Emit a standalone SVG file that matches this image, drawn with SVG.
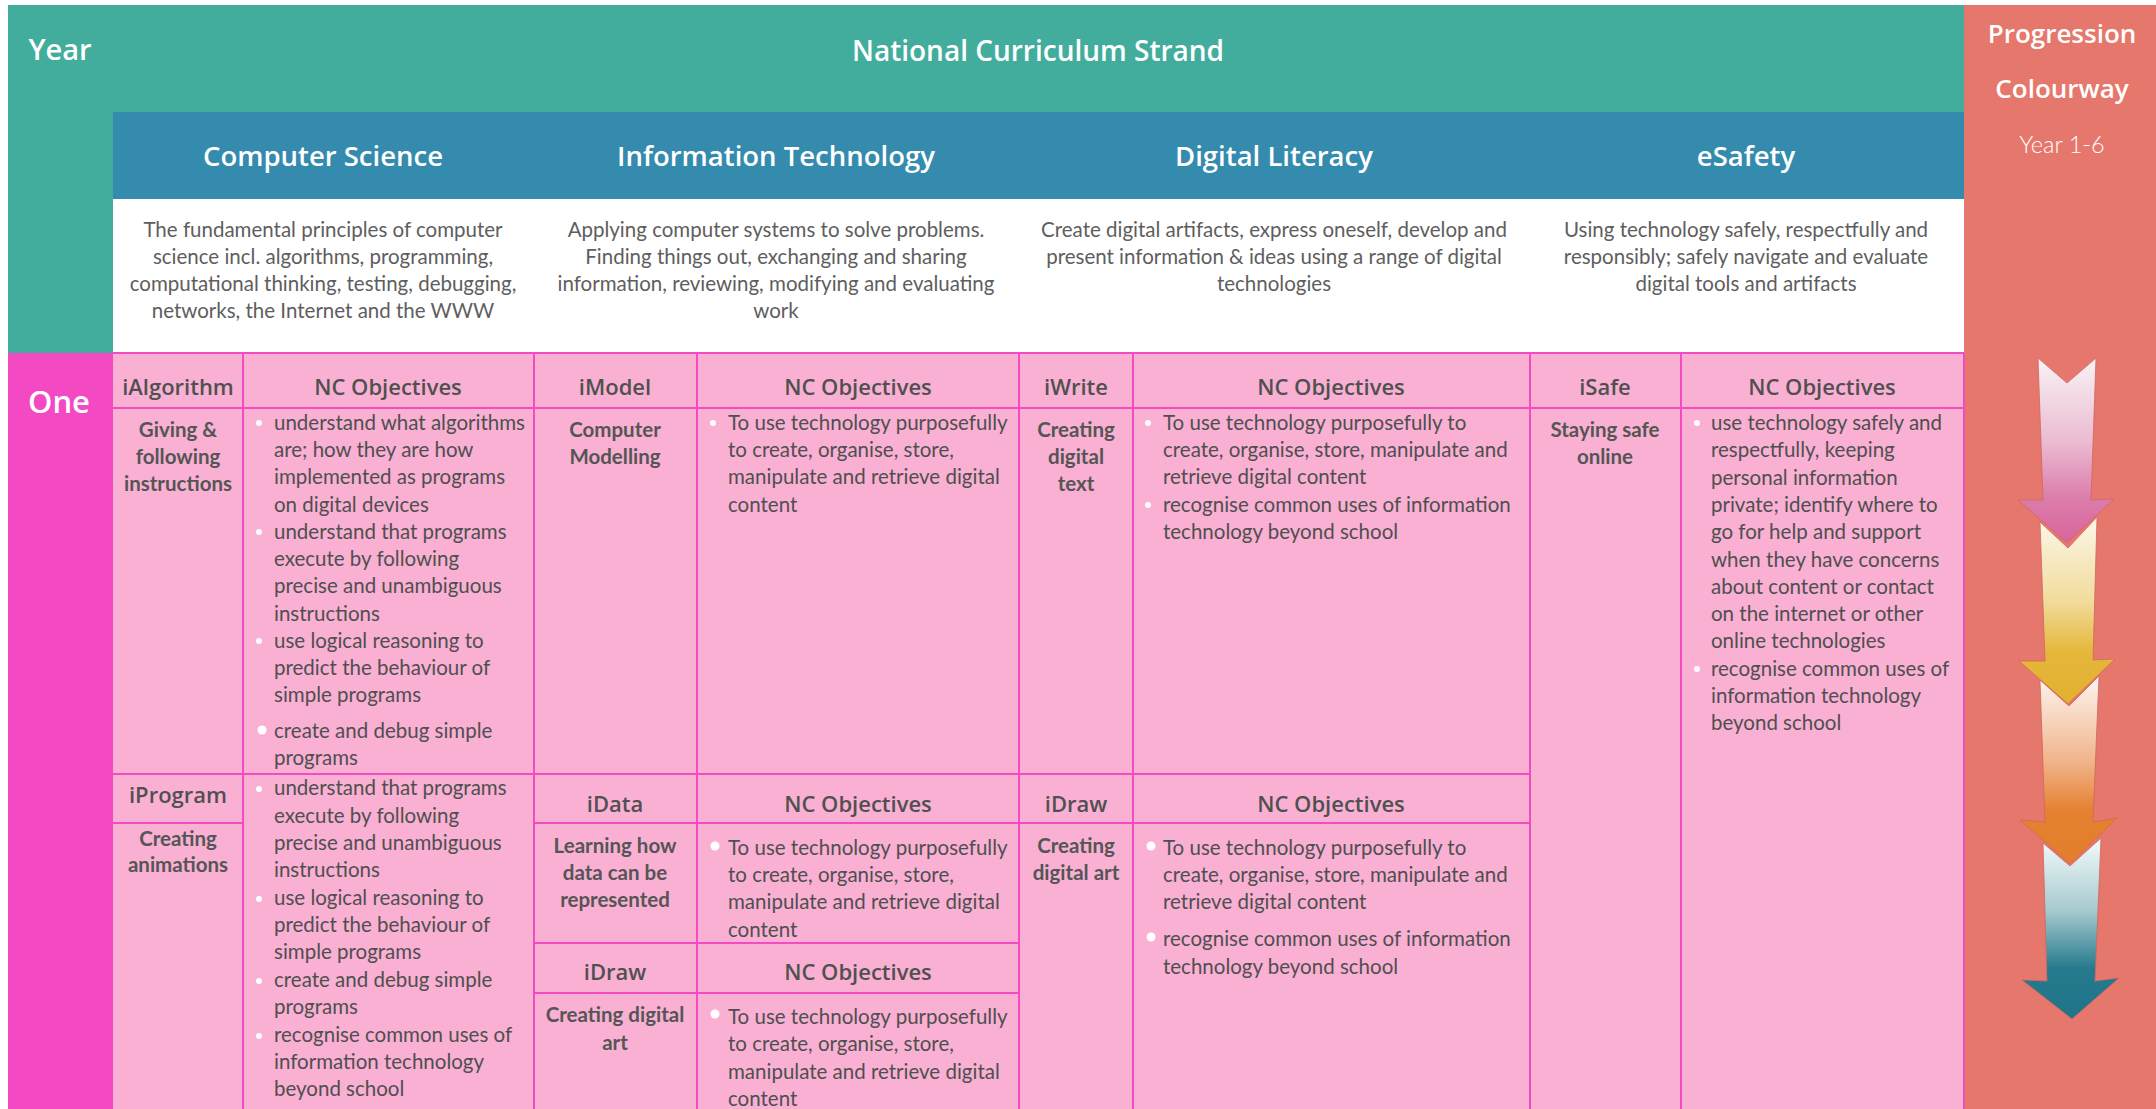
<svg xmlns="http://www.w3.org/2000/svg" width="2156" height="1109" viewBox="0 0 2156 1109">
<defs>
<style>
.hw{font-family:"Open Sans","Noto Sans",sans-serif;font-weight:600;text-anchor:middle}
.hwW{fill:#ffffff}
.hwD{fill:#505050}
.desc{font-family:Lato,"Liberation Sans",sans-serif;font-size:20.5px;fill:#5e5e5e;text-anchor:middle}
.body{font-family:Lato,"Liberation Sans",sans-serif;font-size:20.5px;fill:#4f4f4f}
.lbl{font-family:Lato,"Liberation Sans",sans-serif;font-size:20.5px;font-weight:700;fill:#555555;text-anchor:middle}
.grid{stroke:#F24BC4;stroke-width:2;fill:none}
.bul{fill:#ffffff}
.arw{stroke:#d0665e;stroke-width:0.8}
</style>
<linearGradient id="g1" x1="0" y1="0" x2="0" y2="1">
<stop offset="0" stop-color="#F8F2F5"/><stop offset="0.45" stop-color="#EBBCD2"/><stop offset="0.75" stop-color="#DC7EAB"/><stop offset="1" stop-color="#D8649C"/>
</linearGradient>
<linearGradient id="g2" x1="0" y1="0" x2="0" y2="1">
<stop offset="0" stop-color="#FCF7EA"/><stop offset="0.45" stop-color="#F1DC9C"/><stop offset="0.72" stop-color="#E5B73A"/><stop offset="1" stop-color="#E2B030"/>
</linearGradient>
<linearGradient id="g3" x1="0" y1="0" x2="0" y2="1">
<stop offset="0" stop-color="#FDF5F1"/><stop offset="0.45" stop-color="#F1B58C"/><stop offset="0.72" stop-color="#E5802F"/><stop offset="1" stop-color="#E37E2D"/>
</linearGradient>
<linearGradient id="g4" x1="0" y1="0" x2="0" y2="1">
<stop offset="0" stop-color="#F5FBFB"/><stop offset="0.4" stop-color="#A6CAD0"/><stop offset="0.72" stop-color="#267A8D"/><stop offset="1" stop-color="#20748A"/>
</linearGradient>
</defs>
<rect x="0" y="0" width="2156" height="1109" fill="#ffffff"/>

<g id="header-band">
<rect x="8" y="5" width="1956" height="108" fill="#42AD9D"/>
<rect x="8" y="5" width="105" height="348" fill="#42AD9D"/>
<text class="hw hwW" x="60" y="60" font-size="29">Year</text>
<text class="hw hwW" x="1038" y="61" font-size="28">National Curriculum Strand</text>
</g>

<g id="strand-headers">
<rect x="113" y="112" width="1851" height="87" fill="#348BAE"/>
<text class="hw hwW" x="323" y="166" font-size="27.5">Computer Science</text>
<text class="hw hwW" x="776" y="166" font-size="27.5">Information Technology</text>
<text class="hw hwW" x="1274" y="166" font-size="27.5">Digital Literacy</text>
<text class="hw hwW" x="1746" y="166" font-size="27.5">eSafety</text>
</g>

<g id="descriptions">
<rect x="113" y="199" width="1851" height="154" fill="#ffffff"/>
<text class="desc" x="323" y="237">The fundamental principles of computer</text>
<text class="desc" x="323" y="264">science incl. algorithms, programming,</text>
<text class="desc" x="323" y="291">computational thinking, testing, debugging,</text>
<text class="desc" x="323" y="318">networks, the Internet and the WWW</text>
<text class="desc" x="776" y="237">Applying computer systems to solve problems.</text>
<text class="desc" x="776" y="264">Finding things out, exchanging and sharing</text>
<text class="desc" x="776" y="291">information, reviewing, modifying and evaluating</text>
<text class="desc" x="776" y="318">work</text>
<text class="desc" x="1274" y="237">Create digital artifacts, express oneself, develop and</text>
<text class="desc" x="1274" y="264">present information &amp; ideas using a range of digital</text>
<text class="desc" x="1274" y="291">technologies</text>
<text class="desc" x="1746" y="237">Using technology safely, respectfully and</text>
<text class="desc" x="1746" y="264">responsibly; safely navigate and evaluate</text>
<text class="desc" x="1746" y="291">digital tools and artifacts</text>
</g>

<g id="progression">
<rect x="1964" y="5" width="192" height="1104" fill="#E6776C"/>
<text class="hw hwW" x="2062" y="43" font-size="26">Progression</text>
<text class="hw hwW" x="2062" y="98" font-size="26">Colourway</text>
<text x="2062" y="153" font-family="Lato,'Liberation Sans',sans-serif" font-weight="300" font-size="23.5" fill="#ffffff" text-anchor="middle">Year 1-6</text>
<g id="arrows">
<polygon class="arw" fill="url(#g4)" points="2043,843 2070,866 2101,838 2095,981 2119,978 2072,1019 2022,980 2047,981"/>
<polygon class="arw" fill="url(#g3)" points="2040,680 2069,706 2099,676 2093,822 2117,818 2070,864 2020,820 2045,822"/>
<polygon class="arw" fill="url(#g2)" points="2040,522 2068,548 2097,517 2093,660 2115,659 2068,704 2019,661 2045,661"/>
<polygon class="arw" fill="url(#g1)" points="2038,358 2067,383 2096,358 2091,500 2114,499 2067,543 2018,500 2043,500"/>
</g>
</g>

<g id="year-one">
<rect x="8" y="353" width="105" height="756" fill="#F34AC4"/>
<text class="hw hwW" x="59" y="413" font-size="31" font-weight="700">One</text>
</g>

<rect x="113" y="353" width="1851" height="756" fill="#F9B0D3"/>

<g id="connectors" class="grid">
<line x1="113" y1="353" x2="1964" y2="353"/>
<line x1="113" y1="408" x2="1964" y2="408"/>
<line x1="113" y1="774" x2="1530" y2="774"/>
<line x1="113" y1="823" x2="243" y2="823"/>
<line x1="534" y1="823" x2="1530" y2="823"/>
<line x1="534" y1="943" x2="1019" y2="943"/>
<line x1="534" y1="993" x2="1019" y2="993"/>
<line x1="243" y1="353" x2="243" y2="1109"/>
<line x1="534" y1="353" x2="534" y2="1109"/>
<line x1="697" y1="353" x2="697" y2="1109"/>
<line x1="1019" y1="353" x2="1019" y2="1109"/>
<line x1="1133" y1="353" x2="1133" y2="1109"/>
<line x1="1530" y1="353" x2="1530" y2="1109"/>
<line x1="1681" y1="353" x2="1681" y2="1109"/>
<line x1="1964" y1="353" x2="1964" y2="1109"/>
</g>

<g id="col-headers">
<text class="hw hwD" x="178" y="395" font-size="22">iAlgorithm</text>
<text class="hw hwD" x="388" y="395" font-size="22">NC Objectives</text>
<text class="hw hwD" x="615" y="395" font-size="22">iModel</text>
<text class="hw hwD" x="858" y="395" font-size="22">NC Objectives</text>
<text class="hw hwD" x="1076" y="395" font-size="22">iWrite</text>
<text class="hw hwD" x="1331" y="395" font-size="22">NC Objectives</text>
<text class="hw hwD" x="1605" y="395" font-size="22">iSafe</text>
<text class="hw hwD" x="1822" y="395" font-size="22">NC Objectives</text>
</g>

<g id="ialgorithm">
<text class="lbl" x="178" y="437">Giving &amp;</text>
<text class="lbl" x="178" y="464">following</text>
<text class="lbl" x="178" y="491">instructions</text>
<circle class="bul" cx="259" cy="423" r="3"/>
<circle class="bul" cx="259" cy="532" r="3"/>
<circle class="bul" cx="259" cy="641" r="3"/>
<circle class="bul" cx="262" cy="730" r="4.5"/>
<text class="body" x="274" y="430">understand what algorithms</text>
<text class="body" x="274" y="457">are; how they are how</text>
<text class="body" x="274" y="484">implemented as programs</text>
<text class="body" x="274" y="512">on digital devices</text>
<text class="body" x="274" y="539">understand that programs</text>
<text class="body" x="274" y="566">execute by following</text>
<text class="body" x="274" y="593">precise and unambiguous</text>
<text class="body" x="274" y="621">instructions</text>
<text class="body" x="274" y="648">use logical reasoning to</text>
<text class="body" x="274" y="675">predict the behaviour of</text>
<text class="body" x="274" y="702">simple programs</text>
<text class="body" x="274" y="738">create and debug simple</text>
<text class="body" x="274" y="765">programs</text>
</g>

<g id="iprogram">
<text class="hw hwD" x="178" y="803" font-size="22">iProgram</text>
<text class="lbl" x="178" y="846">Creating</text>
<text class="lbl" x="178" y="872">animations</text>
<circle class="bul" cx="259" cy="789" r="3"/>
<circle class="bul" cx="259" cy="899" r="3"/>
<circle class="bul" cx="259" cy="981" r="3"/>
<circle class="bul" cx="259" cy="1036" r="3"/>
<text class="body" x="274" y="795">understand that programs</text>
<text class="body" x="274" y="823">execute by following</text>
<text class="body" x="274" y="850">precise and unambiguous</text>
<text class="body" x="274" y="877">instructions</text>
<text class="body" x="274" y="905">use logical reasoning to</text>
<text class="body" x="274" y="932">predict the behaviour of</text>
<text class="body" x="274" y="959">simple programs</text>
<text class="body" x="274" y="987">create and debug simple</text>
<text class="body" x="274" y="1014">programs</text>
<text class="body" x="274" y="1042">recognise common uses of</text>
<text class="body" x="274" y="1069">information technology</text>
<text class="body" x="274" y="1096">beyond school</text>
</g>

<g id="imodel">
<text class="lbl" x="615" y="437">Computer</text>
<text class="lbl" x="615" y="464">Modelling</text>
<circle class="bul" cx="713" cy="423" r="3"/>
<text class="body" x="728" y="430">To use technology purposefully</text>
<text class="body" x="728" y="457">to create, organise, store,</text>
<text class="body" x="728" y="484">manipulate and retrieve digital</text>
<text class="body" x="728" y="512">content</text>
</g>

<g id="idata">
<text class="hw hwD" x="615" y="812" font-size="22">iData</text>
<text class="hw hwD" x="858" y="812" font-size="22">NC Objectives</text>
<text class="lbl" x="615" y="853">Learning how</text>
<text class="lbl" x="615" y="880">data can be</text>
<text class="lbl" x="615" y="907">represented</text>
<circle class="bul" cx="715" cy="846" r="4.5"/>
<text class="body" x="728" y="855">To use technology purposefully</text>
<text class="body" x="728" y="882">to create, organise, store,</text>
<text class="body" x="728" y="909">manipulate and retrieve digital</text>
<text class="body" x="728" y="937">content</text>
</g>

<g id="idraw-it">
<text class="hw hwD" x="615" y="980" font-size="22">iDraw</text>
<text class="hw hwD" x="858" y="980" font-size="22">NC Objectives</text>
<text class="lbl" x="615" y="1022">Creating digital</text>
<text class="lbl" x="615" y="1050">art</text>
<circle class="bul" cx="715" cy="1014" r="4.5"/>
<text class="body" x="728" y="1024">To use technology purposefully</text>
<text class="body" x="728" y="1051">to create, organise, store,</text>
<text class="body" x="728" y="1079">manipulate and retrieve digital</text>
<text class="body" x="728" y="1106">content</text>
</g>

<g id="iwrite">
<text class="lbl" x="1076" y="437">Creating</text>
<text class="lbl" x="1076" y="464">digital</text>
<text class="lbl" x="1076" y="491">text</text>
<circle class="bul" cx="1148" cy="423" r="3"/>
<circle class="bul" cx="1148" cy="505" r="3"/>
<text class="body" x="1163" y="430">To use technology purposefully to</text>
<text class="body" x="1163" y="457">create, organise, store, manipulate and</text>
<text class="body" x="1163" y="484">retrieve digital content</text>
<text class="body" x="1163" y="512">recognise common uses of information</text>
<text class="body" x="1163" y="539">technology beyond school</text>
</g>

<g id="idraw-dl">
<text class="hw hwD" x="1076" y="812" font-size="22">iDraw</text>
<text class="hw hwD" x="1331" y="812" font-size="22">NC Objectives</text>
<text class="lbl" x="1076" y="853">Creating</text>
<text class="lbl" x="1076" y="880">digital art</text>
<circle class="bul" cx="1151" cy="846" r="4.5"/>
<circle class="bul" cx="1151" cy="937" r="4.5"/>
<text class="body" x="1163" y="855">To use technology purposefully to</text>
<text class="body" x="1163" y="882">create, organise, store, manipulate and</text>
<text class="body" x="1163" y="909">retrieve digital content</text>
<text class="body" x="1163" y="946">recognise common uses of information</text>
<text class="body" x="1163" y="974">technology beyond school</text>
</g>

<g id="isafe">
<text class="lbl" x="1605" y="437">Staying safe</text>
<text class="lbl" x="1605" y="464">online</text>
<circle class="bul" cx="1697" cy="423" r="3"/>
<circle class="bul" cx="1697" cy="669" r="3"/>
<text class="body" x="1711" y="430">use technology safely and</text>
<text class="body" x="1711" y="457">respectfully, keeping</text>
<text class="body" x="1711" y="485">personal information</text>
<text class="body" x="1711" y="512">private; identify where to</text>
<text class="body" x="1711" y="539">go for help and support</text>
<text class="body" x="1711" y="567">when they have concerns</text>
<text class="body" x="1711" y="594">about content or contact</text>
<text class="body" x="1711" y="621">on the internet or other</text>
<text class="body" x="1711" y="648">online technologies</text>
<text class="body" x="1711" y="676">recognise common uses of</text>
<text class="body" x="1711" y="703">information technology</text>
<text class="body" x="1711" y="730">beyond school</text>
</g>
</svg>
